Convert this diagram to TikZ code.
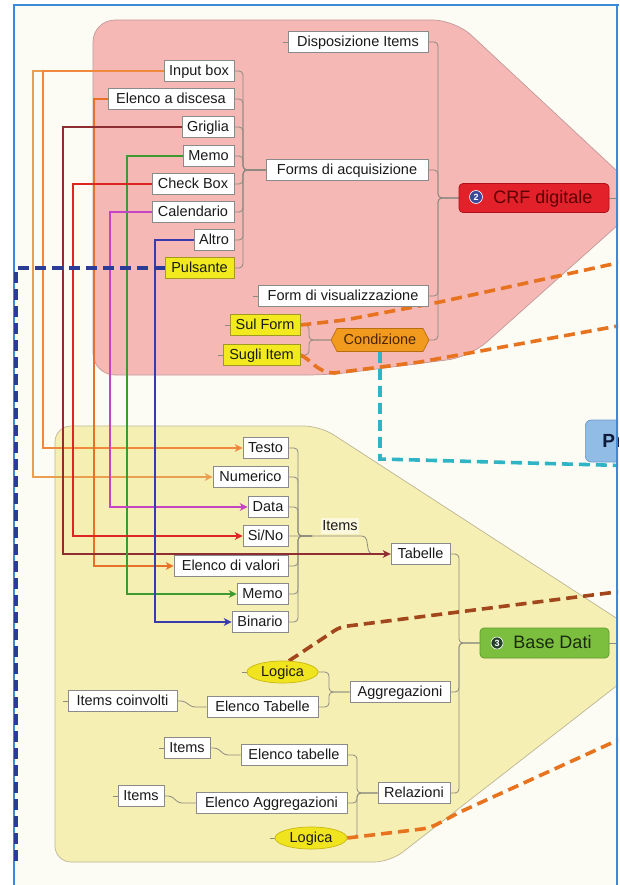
\documentclass[tikz,border=0pt]{standalone}
\usepackage{fontspec}
\setmainfont{Liberation Sans}
\usetikzlibrary{arrows.meta,shapes.geometric,shapes.symbols}
\pgfdeclarelayer{bg}
\pgfdeclarelayer{lines}
\pgfsetlayers{bg,lines,main}
\definecolor{bgin}{HTML}{FCFCF4}
\definecolor{framec}{HTML}{3A8AD8}
\definecolor{pinkfill}{HTML}{F5B8B5}
\definecolor{pinkbord}{HTML}{C09A9A}
\definecolor{yelfill}{HTML}{F6EFB4}
\definecolor{yelbord}{HTML}{BDB595}
\definecolor{boxline}{HTML}{8A8A8A}
\definecolor{txt}{HTML}{1A1A1A}
\definecolor{hlfill}{HTML}{F2EA1E}
\definecolor{hlbord}{HTML}{A09A20}
\definecolor{condfill}{HTML}{F29A1E}
\definecolor{condbord}{HTML}{B86E10}
\definecolor{condtxt}{HTML}{4A2400}
\definecolor{crffill}{HTML}{E3212B}
\definecolor{crfbord}{HTML}{B01018}
\definecolor{crftxt}{HTML}{5E0000}
\definecolor{bdfill}{HTML}{7CBF3E}
\definecolor{bdbord}{HTML}{5A9A2A}
\definecolor{bdtxt}{HTML}{1A2A10}
\definecolor{logfill}{HTML}{F0E41E}
\definecolor{logbord}{HTML}{C8B810}
\definecolor{pfill}{HTML}{90BCE6}
\definecolor{pbord}{HTML}{6A98C8}
\definecolor{ptxt}{HTML}{0E1A3A}
\definecolor{treec}{HTML}{8C8A80}
\definecolor{cin}{HTML}{F0883E}
\definecolor{cintwo}{HTML}{EA9E52}
\definecolor{celenco}{HTML}{E8702A}
\definecolor{cgriglia}{HTML}{8E2E32}
\definecolor{cmemo}{HTML}{3C9A2E}
\definecolor{ccheck}{HTML}{E02424}
\definecolor{ccal}{HTML}{C444C4}
\definecolor{caltro}{HTML}{3A3AB0}
\definecolor{navyd}{HTML}{2B3C98}
\definecolor{orng}{HTML}{E8731E}
\definecolor{brwn}{HTML}{A2461C}
\definecolor{tealc}{HTML}{2EB4C4}
\definecolor{balltwo}{HTML}{3A4A98}
\definecolor{ballthree}{HTML}{24402A}
\definecolor{lblbg}{HTML}{FBF8DE}
\begin{document}
\begin{tikzpicture}[x=1pt,y=-1pt,
  bx/.style={draw=boxline, fill=white, line width=0.7pt, minimum height=21pt,
    inner xsep=0pt, inner ysep=0pt, text height=11.5pt, text depth=2pt,
    font=\fontsize{14.5}{16}\selectfont, text=txt},
  ybx/.style={bx, fill=hlfill, draw=hlbord},
  condst/.style={signal, signal to=west and east, signal pointer angle=125,
    fill=condfill, draw=condbord, line width=0.7pt, minimum height=23pt,
    inner xsep=0pt, inner ysep=0pt, text height=11.5pt, text depth=2pt,
    font=\fontsize{14.5}{16}\selectfont, text=condtxt},
  crfst/.style={rounded corners=4pt, fill=crffill, draw=crfbord, line width=0.7pt,
    minimum height=29pt, inner xsep=0pt, text height=14pt, text depth=2.5pt,
    font=\fontsize{18}{20}\selectfont, text=crftxt},
  bdst/.style={rounded corners=4pt, fill=bdfill, draw=bdbord, line width=0.7pt,
    minimum height=30pt, inner xsep=0pt, text height=14pt, text depth=2.5pt,
    font=\fontsize{18}{20}\selectfont, text=bdtxt},
  logst/.style={ellipse, fill=logfill, draw=logbord, line width=0.7pt,
    minimum height=22pt, inner sep=0pt, text height=11.5pt, text depth=2pt,
    font=\fontsize{14.5}{16}\selectfont, text=txt},
  lbl/.style={fill=lblbg, inner sep=1pt, text height=11.5pt, text depth=2pt,
    font=\fontsize{14.5}{16}\selectfont, text=txt},
  ball/.style={circle, inner sep=0pt, minimum size=13pt, draw=white, line width=0.6pt,
    text=white, font=\bfseries\fontsize{9}{9}\selectfont},
  pst/.style={rounded corners=6pt, fill=pfill, draw=pbord, line width=0.7pt,
    minimum height=42pt, inner xsep=17pt, text height=14pt, text depth=2pt,
    font=\bfseries\fontsize{19}{20}\selectfont, text=ptxt},
  tree/.style={draw=treec, line width=0.8pt, rounded corners=4pt},
  rel/.style={line width=1.1pt, -{Stealth[length=8pt,width=8pt,inset=2.5pt]}},
  dsh/.style={line width=3.6pt, dash pattern=on 11pt off 6pt}
]
\useasboundingbox (0,0) rectangle (619,885);

% ---------- nodes ----------
\begin{scope}
\clip (14,5) rectangle (618,885);
% CRF digitale area
\node[bx, minimum width=140pt] (disp) at (358,42) {Disposizione Items};
\node[bx, minimum width=70pt] (inputbox) at (199,71) {Input box};
\node[bx, minimum width=126pt] (elenco) at (171,99) {Elenco a discesa};
\node[bx, minimum width=52pt] (griglia) at (208,127) {Griglia};
\node[bx, minimum width=51pt] (memoA) at (208.5,156) {Memo};
\node[bx, minimum width=82pt] (check) at (193,184) {Check Box};
\node[bx, minimum width=82pt] (cal) at (193,212) {Calendario};
\node[bx, minimum width=40pt] (altro) at (214,240) {Altro};
\node[ybx, minimum width=69pt] (puls) at (199.5,268) {Pulsante};
\node[bx, minimum width=162pt] (forms) at (347,170) {Forms di acquisizione};
\node[bx, minimum width=170pt] (formvis) at (343,296) {Form di visualizzazione};
\node[ybx, minimum width=70pt] (sulform) at (265,325) {Sul Form};
\node[ybx, minimum width=77pt] (sugli) at (261.5,355) {Sugli Item};
\node[condst, minimum width=98pt] (cond) at (380,340) {Condizione};
\node[crfst, minimum width=150pt] (crf) at (534,198) {\hspace{18pt}CRF digitale};
\node[ball, fill=balltwo] (n2) at (476,197) {2};
% Base Dati area
\node[bx, minimum width=45pt] (testo) at (265.5,448) {Testo};
\node[bx, minimum width=75pt] (numerico) at (250.5,477) {Numerico};
\node[bx, minimum width=40pt] (data) at (268,507) {Data};
\node[bx, minimum width=45pt] (sino) at (265.5,536) {Si/No};
\node[bx, minimum width=114pt] (elencov) at (231,566) {Elenco di valori};
\node[bx, minimum width=51pt] (memoB) at (262.5,594) {Memo};
\node[bx, minimum width=56pt] (binario) at (260,622) {Binario};
\node[lbl] (itemslbl) at (340,526) {Items};
\node[bx, minimum width=59pt] (tabelle) at (420.5,554) {Tabelle};
\node[bdst, minimum width=129pt] (basedati) at (544.5,643) {\hspace{16pt}Base Dati};
\node[ball, fill=ballthree, minimum size=12pt] (n3) at (497,643) {3};
\node[bx, minimum width=100pt] (aggreg) at (400,692) {Aggregazioni};
\node[bx, minimum width=72pt] (relaz) at (414,793) {Relazioni};
\node[logst, minimum width=71pt] (logica1) at (282.5,672) {Logica};
\node[bx, minimum width=111pt] (elencoT) at (262.5,707) {Elenco Tabelle};
\node[bx, minimum width=109pt] (itemsc) at (122.5,701) {Items coinvolti};
\node[bx, minimum width=106pt] (elencot) at (294,755) {Elenco tabelle};
\node[bx, minimum width=151pt] (elencoA) at (271.5,803) {Elenco Aggregazioni};
\node[logst, minimum width=72pt] (logica2) at (311,838) {Logica};
\node[bx, minimum width=46pt] (items1) at (187,748) {Items};
\node[bx, minimum width=46pt] (items2) at (141,796) {Items};
% partly visible node at the right edge
\node[pst, anchor=west] (pnode) at (585,441) {Pr};
\end{scope}

% free ends of connectors leaving the picture
\coordinate (crfout) at (640,198);
\coordinate (bdout) at (640,643);
\coordinate (o1) at (640,258);
\coordinate (o2) at (640,322);
\coordinate (t1) at (640,466);
\coordinate (b1) at (640,589);
\coordinate (o3) at (640,730);
\coordinate (navyend) at (16,866);

% ---------- background ----------
\begin{pgfonlayer}{bg}
\fill[white] (0,0) rectangle (619,885);
\fill[bgin] (14,5) rectangle (619,885);
\begin{scope}
\clip (14,5) rectangle (618,885);
\draw[fill=pinkfill, draw=pinkbord, line width=0.7pt, rounded corners=22pt]
  (93,20) -- (455,20) -- (647,199) -- (470,357) -- (330,375) -- (93,375) -- cycle;
\draw[fill=yelfill, draw=yelbord, line width=0.7pt, rounded corners=16pt]
  (55,426) -- (320,426) -- (664,649) -- (390,862) -- (55,862) -- cycle;
\end{scope}
\draw[framec, line width=1.4pt] (14,885) -- (14,5) -- (619,5);
\end{pgfonlayer}

% ---------- connectors ----------
\begin{pgfonlayer}{lines}
\begin{scope}
\clip (14,5) rectangle (618,885);
% tree structure
\foreach \n/\y in {inputbox/71, elenco/99, griglia/127, memoA/156, check/184, cal/212, altro/240, puls/268}
  \draw[tree] (\n.east) -- (243,\y) -- (243,170) -- (forms.west);
\foreach \n/\y in {disp/42, forms/170, formvis/296, cond/340}
  \draw[tree] (\n.east) -- (438,\y) -- (438,198) -- (crf.west);
\foreach \n/\y in {sulform/325, sugli/355}
  \draw[tree] (\n.east) -- (309,\y) -- (309,340) -- (cond.west);
\foreach \n/\y in {testo/448, numerico/477, data/507, elencov/566, memoB/594, binario/622}
  \draw[tree] (\n.east) -- (298,\y) -- (298,536) -- (312,536);
\draw[tree] (sino.east) -- (366,536) -- (369,554) -- (tabelle.west);
\foreach \n/\y in {tabelle/554, aggreg/692, relaz/793}
  \draw[tree] (\n.east) -- (459,\y) -- (459,643) -- (basedati.west);
\foreach \n/\y in {logica1/672, elencoT/707}
  \draw[tree] (\n.east) -- (329,\y) -- (329,692) -- (aggreg.west);
\foreach \n/\y in {elencot/755, elencoA/803, logica2/838}
  \draw[tree] (\n.east) -- (357,\y) -- (357,793) -- (relaz.west);
\draw[tree, rounded corners=3pt] (itemsc.east) -- (184,701) -- (192,707) -- (elencoT.west);
\draw[tree, rounded corners=3pt] (items1.east) -- (217,748) -- (225,755) -- (elencot.west);
\draw[tree, rounded corners=3pt] (items2.east) -- (171,796) -- (179,803) -- (elencoA.west);
\foreach \n in {disp, formvis, sulform, sugli, itemsc, items1, items2, logica1, logica2}
  \draw[tree] (\n.west) -- ++(-5,0);
\draw[tree] (crf.east) -- (crfout);
\draw[tree] (basedati.east) -- (bdout);
% relationships
\draw[rel, color=cintwo] (inputbox.west) -- (33,71) -- (33,477) -- (numerico.west);
\draw[rel, color=cin] (inputbox.west) -- (43,71) -- (43,448) -- (testo.west);
\draw[rel, color=celenco] (elenco.west) -- (94,99) -- (94,566) -- (elencov.west);
\draw[rel, color=cgriglia] (griglia.west) -- (63,127) -- (63,554) -- (tabelle.west);
\draw[rel, color=cmemo] (memoA.west) -- (127,156) -- (127,594) -- (memoB.west);
\draw[rel, color=ccheck] (check.west) -- (73,184) -- (73,536) -- (sino.west);
\draw[rel, color=ccal] (cal.west) -- (110,212) -- (110,507) -- (data.west);
\draw[rel, color=caltro] (altro.west) -- (155,240) -- (155,622) -- (binario.west);
% dashed links
\draw[dsh, color=navyd] (puls.west) -- (16,268) -- (navyend);
\draw[dsh, color=orng, rounded corners=6pt] (sulform.east) -- (345,320) -- (440,302) -- (o1);
\draw[dsh, color=orng] (sugli.east) .. controls (312,360) and (316,372) .. (334,373) -- (420,362) -- (o2);
\draw[dsh, color=tealc] (cond.south) -- (380,459) -- (t1);
\draw[dsh, color=brwn, rounded corners=6pt] (logica1.60) -- (340,627) -- (b1);
\draw[dsh, color=orng, rounded corners=8pt] (logica2.east) -- (430,828) -- (460,812) -- (o3);
\end{scope}
\end{pgfonlayer}

\draw[framec, line width=1.4pt] (617,5) -- (617,885);
\end{tikzpicture}
\end{document}
